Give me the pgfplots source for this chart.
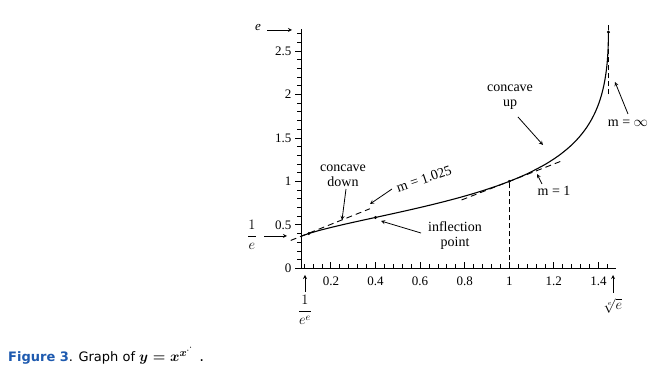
\documentclass[border=0pt]{standalone}
\usepackage{pgfplots}
\pgfplotsset{compat=1.18}
\usepackage{fontspec}
\setmainfont{Liberation Serif}
\newfontfamily\capfont{DejaVu Sans}
\definecolor{figblue}{RGB}{30,90,175}
\begin{document}
\begin{tikzpicture}
\useasboundingbox (0pt,0pt) rectangle (649pt,377pt);
\begin{axis}[
  at={(301pt,108.7pt)}, anchor=south west,
  scale only axis, width=315.3pt, height=239pt,
  xmin=0.066, xmax=1.48, ymin=0, ymax=2.75,
  axis lines=left, axis line style={-, line width=0.9pt},
  clip=false,
  xtick={0.2,0.4,0.6,0.8,1,1.2,1.4},
  ytick={0,0.5,1,1.5,2,2.5},
  minor xtick={0.08,0.12,0.16,0.24,0.28,0.32,0.36,0.44,0.48,0.52,0.56,0.64,0.68,0.72,0.76,0.84,0.88,0.92,0.96,1.04,1.08,1.12,1.16,1.24,1.28,1.32,1.36,1.44},
  minor ytick={0.1,0.2,0.3,0.4,0.6,0.7,0.8,0.9,1.1,1.2,1.3,1.4,1.6,1.7,1.8,1.9,2.1,2.2,2.3,2.4,2.6,2.7},
  tick align=outside, major tick length=6pt, minor tick length=4pt,
  major x tick style={yshift=6pt},
  minor x tick style={yshift=4pt},
  every tick/.style={black, line width=0.8pt},
  /pgf/number format/assume math mode=true,
  tick label style={font=\fontsize{13}{14}\selectfont},
  xticklabel style={yshift=1pt},
]
\addplot[black, line width=1.1pt, smooth] coordinates {
(0.06599,0.36788) (0.07839,0.38) (0.10119,0.4) (0.12676,0.42) (0.16957,0.45)
(0.25,0.5) (0.33724,0.55) (0.42681,0.6) (0.51543,0.65) (0.60078,0.7)
(0.68142,0.75) (0.75661,0.8) (0.82597,0.85) (0.88953,0.9) (0.94744,0.95)
(1,1) (1.04756,1.05) (1.09051,1.1) (1.16410,1.2) (1.22362,1.3) (1.27167,1.4)
(1.31037,1.5) (1.34145,1.6) (1.36633,1.7) (1.38618,1.8) (1.40189,1.9)
(1.41421,2.0) (1.42376,2.1) (1.43102,2.2) (1.43640,2.3) (1.44020,2.4)
(1.44270,2.5) (1.44412,2.6) (1.44467,2.71828)
};
% tangent m = 1.025 at (1/e^e, 1/e)
\addplot[black, line width=0.9pt, dash pattern=on 6pt off 4pt] coordinates {(0.02,0.3207) (0.375,0.6853)};
% tangent m = 1 at (1,1)
\addplot[black, line width=0.9pt, dash pattern=on 6pt off 4pt] coordinates {(0.786,0.786) (1.24,1.24)};
% vertical dashed at x = 1
\addplot[black, line width=1pt, dash pattern=on 5pt off 3pt] coordinates {(1,0) (1,1)};
% vertical tangent near top
\addplot[black, line width=1pt, dash pattern=on 5pt off 3pt] coordinates {(1.4467,2.0) (1.4467,2.82)};
% points
\addplot[only marks, mark=*, mark size=1.3pt, black] coordinates {(0.10119,0.4) (0.40,0.585) (1,1) (1.44467,2.71828)};
\end{axis}

\tikzset{ann/.style={font=\fontsize{14}{15}\selectfont, inner sep=0pt, align=center}, arr/.style={-stealth, line width=0.8pt}}
% e label
\node[ann, font=\fontsize{13}{14}\selectfont\itshape] at (258pt,349pt) {e};
\draw[arr] (267pt,347pt) -- (292pt,347pt);
% 1/e label
\node[ann] at (252pt,142pt) {$\displaystyle\frac{1}{e}$};
\draw[arr] (264pt,141pt) -- (287pt,141pt);
% 1/e^e below axis
\draw[arr] (305pt,85pt) -- (305pt,102pt);
\node[ann] at (305pt,67pt) {$\displaystyle\frac{1}{e^{e}}$};
% e-th root of e
\draw[arr] (613pt,84pt) -- (613pt,102pt);
\node[ann] at (613pt,71pt) {$\sqrt[e]{e}$};
% concave down
\node[ann] at (343pt,201pt) {concave\\down};
\draw[arr] (346pt,188pt) -- (342pt,157pt);
% m = 1.025
\node[ann, rotate=19] at (424pt,198pt) {m = 1.025};
\draw[arr] (392pt,188pt) -- (370pt,173pt);
% inflection point
\node[ann] at (455pt,141pt) {inflection\\point};
\draw[arr] (421pt,144pt) -- (381pt,156pt);
% concave up
\node[ann] at (510pt,280pt) {concave\\up};
\draw[arr] (518pt,260pt) -- (543pt,232pt);
% m = 1
\node[ann] at (554pt,186pt) {m = 1};
\draw[arr] (542pt,193pt) -- (537pt,203pt);
% m = infinity
\node[ann] at (628pt,254pt) {m = $\infty$};
\draw[arr] (628pt,263pt) -- (615pt,295pt);
% caption
\node[anchor=base west, inner sep=0pt] at (8pt,15pt) {\capfont\fontsize{13}{15}\selectfont{\color{figblue}\bfseries Figure 3}. Graph of \fontsize{15}{16}\selectfont{\boldmath$y = x^{x^{\cdot^{\cdot}}}$}\hspace{6pt}.};
\end{tikzpicture}
\end{document}
